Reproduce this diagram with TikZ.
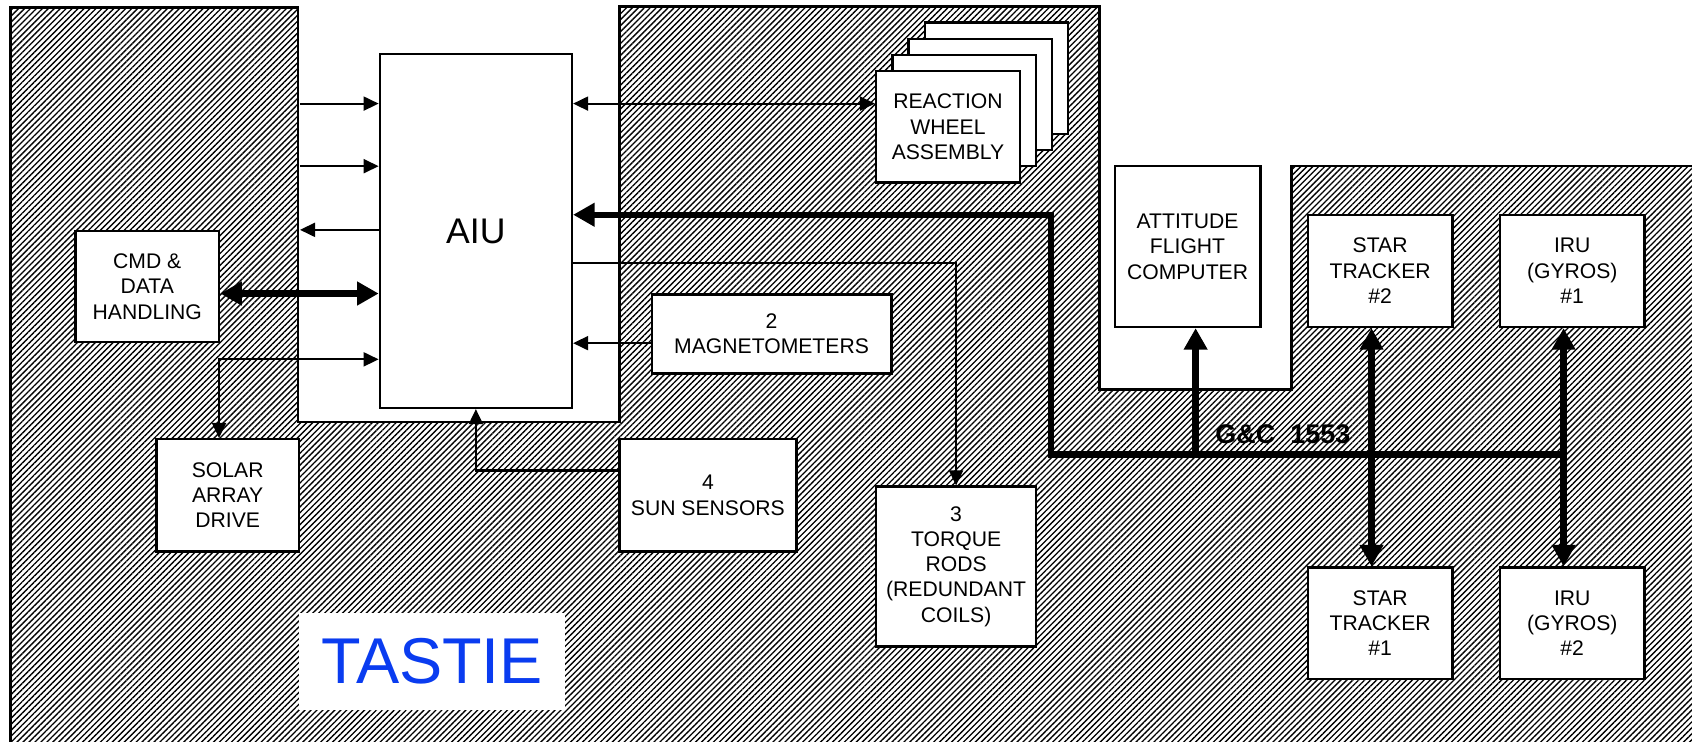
\documentclass[tikz,border=0pt]{standalone}
\usepackage{fontspec}
\setmainfont{Liberation Sans}
\usetikzlibrary{arrows.meta,patterns.meta}
\definecolor{tblue}{RGB}{10,60,240}
\tikzset{
  box/.style={draw, fill=white, line width=1.1pt, align=center, inner sep=0pt,
    font=\fontsize{9.8}{11.7}\selectfont},
  thinarr/.style={line width=0.95pt, -{Triangle[length=7pt,width=6.5pt]}},
  thinboth/.style={line width=0.95pt, {Triangle[length=7pt,width=6.5pt]}-{Triangle[length=7pt,width=6.5pt]}},
  thickarr/.style={line width=3pt, line join=miter, -{Triangle[length=10pt,width=10.5pt]}},
  thickboth/.style={line width=3pt, {Triangle[length=10pt,width=10.5pt]}-{Triangle[length=10pt,width=10.5pt]}},
  hatch/.style={pattern={Lines[angle=45,distance=1.95pt,line width=0.62pt]}},
}
\begin{document}
\begin{tikzpicture}[x=0.5pt,y=-0.5pt]
\useasboundingbox (0,0) rectangle (1568,687);
\begin{scope}
\clip (0,0) rectangle (1568,687);
\fill[hatch] (10,700) -- (10,7) -- (276,7) -- (276,391) -- (574,391) -- (574,6) -- (1019,6) -- (1019,361) -- (1197,361) -- (1197,154) -- (1580,154) -- (1580,700) -- cycle;
\draw[line width=1.2pt] (10,700) -- (10,7) -- (276,7) -- (276,391) -- (574,391) -- (574,6) -- (1019,6) -- (1019,361) -- (1197,361) -- (1197,154) -- (1580,154);
\end{scope}

% TASTIE label
\node[fill=white, minimum width=123.5pt, minimum height=45pt, inner sep=0pt, text=tblue,
  font=\fontsize{30}{36}\selectfont] (TAS) at (400.5,613) {TASTIE};

% boxes
\node[box, minimum width=89pt, minimum height=164pt, font=\fontsize{16.5}{20}\selectfont] (AIU) at (441,214) {AIU};
\node[box, minimum width=66.5pt, minimum height=51.5pt] (CMD) at (136.5,265.5) {CMD \&\\DATA\\HANDLING};
\node[box, minimum width=66pt, minimum height=52pt] (SAD) at (211,459) {SOLAR\\ARRAY\\DRIVE};
\node[box, minimum width=111pt, minimum height=36.5pt] (MAG) at (715,309.5) {2\\MAGNETOMETERS};
\node[box, minimum width=82pt, minimum height=52pt] (SUN) at (656,459) {4\\SUN SENSORS};
\node[box, minimum width=74pt, minimum height=74pt] (TRQ) at (886,525) {3\\TORQUE\\RODS\\(REDUNDANT\\COILS)};
\foreach \k in {3,2,1}
  \node[box, minimum width=66.5pt, minimum height=51.5pt] (RWA\k) at (878.5+15*\k,117.5-15*\k) {};
\node[box, minimum width=66.5pt, minimum height=51.5pt] (RWA) at (878.5,117.5) {REACTION\\WHEEL\\ASSEMBLY};
\node[box, minimum width=67.5pt, minimum height=74.5pt] (ATT) at (1100.5,228.5) {ATTITUDE\\FLIGHT\\COMPUTER};
\node[box, minimum width=67pt, minimum height=52pt] (ST2) at (1279,251) {STAR\\TRACKER\\\#2};
\node[box, minimum width=67pt, minimum height=52pt] (IRU1) at (1457,251) {IRU\\(GYROS)\\\#1};
\node[box, minimum width=67pt, minimum height=51.5pt] (ST1) at (1279,577.5) {STAR\\TRACKER\\\#1};
\node[box, minimum width=67pt, minimum height=51.5pt] (IRU2) at (1457,577.5) {IRU\\(GYROS)\\\#2};

\node[anchor=base west, inner sep=0pt, font=\bfseries\fontsize{12.5}{15}\selectfont] (GC) at (1126,411) {G\&C\ \ 1553};

% coordinates
\coordinate (L1) at (278,96);
\coordinate (L2) at (278,154);
\coordinate (L3) at (278,213);
\coordinate (ycmd) at (0,272);
\coordinate (sadc) at (203,333);
\coordinate (yrwa) at (0,96);
\coordinate (ytrq) at (0,244);
\coordinate (ymag) at (0,318);
\coordinate (ysun) at (0,436);
\coordinate (ybig) at (0,199);
\coordinate (busL) at (974,421);
\coordinate (busR) at (1449,421);
\coordinate (attx) at (1108,0);
\coordinate (stx) at (1271,0);
\coordinate (irux) at (1449,0);

% thin connectors
\draw[thinarr] (L1) -- (AIU.west |- L1);
\draw[thinarr] (L2) -- (AIU.west |- L2);
\draw[thinarr] (AIU.west |- L3) -- (L3);
\draw[thinboth] (SAD.north -| sadc) -- (sadc) -- (AIU.west |- sadc);
\draw[thinboth] (AIU.east |- yrwa) -- (RWA.west |- yrwa);
\draw[thinarr] (AIU.east |- ytrq) -| (TRQ.north);
\draw[thinarr] (MAG.west |- ymag) -- (AIU.east |- ymag);
\draw[thinarr] (SUN.west |- ysun) -| (AIU.south);

% thick connectors
\draw[thickboth] (CMD.east |- ycmd) -- (AIU.west |- ycmd);
\draw[thickarr] (busR) -- (busL) |- (AIU.east |- ybig);
\draw[thickarr] (busL -| attx) -- (ATT.south -| attx);
\draw[thickboth] (ST2.south -| stx) -- (ST1.north -| stx);
\draw[thickboth] (IRU1.south -| irux) -- (IRU2.north -| irux);
\end{tikzpicture}
\end{document}
